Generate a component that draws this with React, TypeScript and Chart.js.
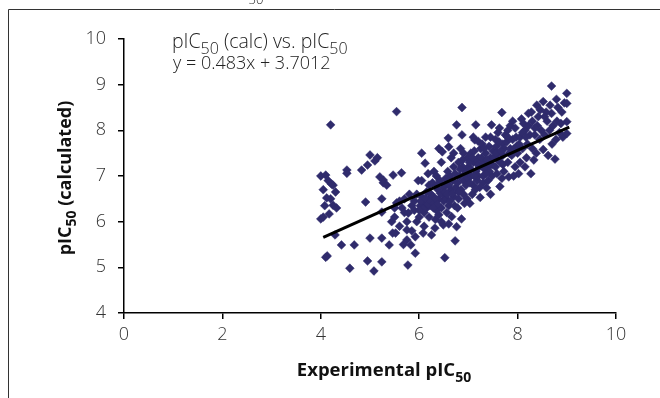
import { useEffect, useRef } from "react";
import { Chart, registerables } from "chart.js";
Chart.register(...registerables);

// Experimental pIC50 (x) vs calculated pIC50 (y)
const scatterPoints: [number, number][] = [
  [4.0, 7.0], [4.1, 7.02], [4.05, 6.7], [4.15, 6.9], [4.2, 8.12], [4.0, 6.06], [4.05, 6.1], [4.17, 6.17],
  [4.12, 6.52], [4.22, 6.82], [4.13, 5.25], [4.1, 5.22], [4.2, 6.5], [4.08, 6.35],
  [4.25, 6.36], [4.32, 6.3], [4.29, 5.71], [4.25, 6.8], [4.42, 5.49], [4.3, 6.65],
  [4.53, 7.13], [4.53, 7.06], [4.68, 5.49], [4.59, 4.98],
  [4.83, 7.13], [4.95, 7.24], [4.91, 6.43], [4.95, 5.14], [5.0, 5.64],
  [5.0, 7.46], [5.1, 7.33], [5.2, 6.98], [5.08, 4.92], [5.24, 6.5], [5.24, 6.21], [5.24, 5.64], [5.24, 5.12], [5.15, 7.4],
  [5.27, 6.91], [5.27, 6.85], [5.34, 6.8], [5.47, 7.02], [5.44, 6.0], [5.46, 5.75], [5.39, 5.49], [5.54, 8.41],
  [5.5, 6.1], [5.54, 6.41], [5.5, 6.3], [5.52, 5.75],
  [5.64, 7.07], [5.6, 6.45], [5.65, 6.3], [5.7, 6.5], [5.75, 5.82], [5.75, 5.6], [5.75, 6.0], [5.7, 6.2], [5.68, 5.5], [5.6, 5.9],
  [5.77, 5.05], [5.78, 6.19], [5.83, 5.49], [5.92, 5.67], [5.92, 5.31], [5.85, 6.35], [5.9, 6.45], [5.95, 6.6],
  [5.8, 6.6], [5.9, 6.25], [5.98, 6.9], [5.85, 5.8], [6.0, 6.1], [5.95, 6.0],
  [6.05, 7.5], [6.12, 7.28], [6.05, 6.9], [6.08, 5.75], [6.1, 6.4], [6.15, 6.3], [6.2, 6.5], [6.05, 6.55], [6.1, 6.2],
  [6.2, 6.1], [6.15, 6.65], [6.25, 5.71], [6.22, 6.35], [6.2, 6.8], [6.18, 7.05], [6.1, 5.9], [6.02, 6.35], [6.24, 6.6],
  [6.03, 6.45], [6.13, 6.5], [6.18, 6.38], [6.08, 6.28], [6.23, 6.45], [6.0, 6.25],
  [6.32, 5.86], [6.49, 5.93], [6.3, 6.4], [6.35, 6.25], [6.4, 6.5], [6.45, 6.3], [6.28, 6.55], [6.38, 6.7], [6.42, 6.9],
  [6.3, 7.1], [6.45, 7.3], [6.4, 7.6], [6.47, 7.53], [6.33, 6.05], [6.48, 6.6], [6.4, 6.15], [6.35, 7.0], [6.5, 6.45],
  [6.27, 6.85], [6.45, 6.0], [6.33, 6.5], [6.37, 6.38], [6.43, 6.62], [6.29, 6.3], [6.5, 6.75], [6.36, 6.8],
  [6.52, 5.21], [6.59, 7.83], [6.6, 7.64], [6.66, 6.11], [6.73, 5.58], [6.55, 6.5], [6.6, 6.35], [6.65, 6.7], [6.7, 6.55],
  [6.55, 6.85], [6.62, 7.0], [6.7, 7.2], [6.58, 7.1], [6.68, 6.9], [6.72, 6.35], [6.52, 6.65], [6.65, 7.4], [6.7, 7.5],
  [6.56, 6.2], [6.74, 6.75], [6.6, 5.95], [6.57, 6.6], [6.63, 6.45], [6.68, 6.62], [6.6, 6.8], [6.73, 7.05], [6.54, 6.95],
  [6.76, 8.12], [6.76, 5.89], [6.86, 6.06], [6.87, 8.5], [6.87, 7.9], [6.8, 6.5], [6.85, 6.7], [6.9, 6.9], [6.95, 7.1],
  [6.8, 7.3], [6.9, 7.5], [6.98, 7.4], [6.82, 7.0], [6.9, 6.6], [6.95, 6.8], [6.78, 6.3], [7.0, 7.2], [6.88, 7.2],
  [6.97, 6.5], [6.84, 7.6], [6.92, 6.4], [6.78, 6.85], [6.83, 7.15], [6.93, 7.05], [6.8, 6.65], [6.99, 6.95], [6.88, 7.35],
  [7.13, 7.79], [7.2, 7.76], [7.24, 6.53], [7.05, 7.0], [7.1, 7.3], [7.15, 7.1], [7.2, 7.4], [7.05, 7.5], [7.1, 6.8],
  [7.22, 7.2], [7.18, 6.9], [7.08, 6.6], [7.25, 7.6], [7.12, 7.55], [7.03, 6.4], [7.2, 7.0], [7.15, 8.12], [7.1, 7.85],
  [7.23, 6.75], [7.05, 7.15], [7.17, 7.35], [7.02, 7.3], [7.12, 7.0], [7.08, 7.4], [7.2, 7.25], [7.14, 6.7], [7.03, 6.85],
  [7.37, 6.74], [7.47, 8.12], [7.3, 7.3], [7.35, 7.5], [7.4, 7.2], [7.45, 7.4], [7.3, 7.0], [7.42, 7.65], [7.28, 7.7],
  [7.48, 7.0], [7.35, 7.85], [7.45, 7.85], [7.3, 6.85], [7.4, 6.9], [7.5, 7.55], [7.33, 7.15], [7.27, 7.4], [7.45, 6.6],
  [7.38, 7.35], [7.32, 7.6], [7.43, 7.1], [7.48, 7.25], [7.36, 7.05],
  [7.64, 6.77], [7.68, 8.39], [7.55, 7.2], [7.6, 7.5], [7.65, 7.3], [7.7, 7.7], [7.55, 7.8], [7.6, 7.95], [7.72, 7.1],
  [7.58, 7.05], [7.7, 7.45], [7.63, 8.05], [7.75, 7.9], [7.52, 7.4], [7.68, 6.95], [7.57, 7.65], [7.73, 7.6], [7.62, 7.75],
  [7.56, 7.5], [7.66, 7.55], [7.7, 7.25], [7.6, 7.35],
  [7.8, 7.3], [7.85, 7.6], [7.9, 7.8], [7.8, 8.0], [7.95, 7.2], [7.88, 7.45], [7.82, 6.98], [7.98, 7.65], [7.85, 8.1],
  [7.92, 7.0], [7.78, 7.75], [7.95, 8.05], [8.0, 7.5], [7.9, 8.2], [7.83, 7.5], [7.93, 7.6], [7.8, 7.85], [7.97, 7.85],
  [8.22, 8.37], [8.05, 7.85], [8.1, 7.6], [8.15, 8.0], [8.2, 7.7], [8.05, 7.3], [8.12, 8.15], [8.18, 7.4], [8.08, 8.25],
  [8.25, 7.9], [8.02, 7.05], [8.15, 7.2], [8.22, 8.1], [8.1, 7.95], [8.03, 7.7], [8.17, 7.85],
  [8.39, 8.55], [8.46, 8.45], [8.3, 8.2], [8.35, 7.9], [8.4, 8.1], [8.3, 7.6], [8.45, 7.8], [8.28, 8.4], [8.38, 7.5],
  [8.48, 8.0], [8.33, 7.35], [8.42, 8.3], [8.27, 7.05], [8.35, 8.05],
  [8.52, 8.63], [8.66, 8.55], [8.69, 8.97], [8.69, 8.37], [8.52, 7.58], [8.6, 8.2], [8.55, 7.9], [8.65, 8.0], [8.58, 8.4],
  [8.7, 7.7], [8.62, 7.45], [8.72, 8.1], [8.55, 8.3],
  [8.79, 8.68], [8.76, 7.37], [8.8, 8.2], [8.85, 7.95], [8.9, 8.4], [8.78, 7.8], [8.88, 8.15], [8.95, 8.6], [8.82, 8.5],
  [8.92, 7.85],
  [9.0, 8.81], [9.0, 8.59], [9.0, 8.19], [9.0, 7.93],
];

// Linear trendline endpoints (y = 0.483x + 3.7012)
const trendX = [4.05, 9.05];
const trendY = [5.657, 8.072];

const xTickValues = [0, 2, 4, 6, 8, 10];
const yTickValues = [4, 5, 6, 7, 8, 9, 10];

const annotationLine1 = [{ t: "pIC" }, { t: "50", sub: true }, { t: " (calc) vs. pIC" }, { t: "50", sub: true }];
const annotationLine2 = [{ t: "y = 0.483x + 3.7012" }];
const yTitle = [{ t: "pIC" }, { t: "50", sub: true }, { t: " (calculated)" }];
const xTitle = [{ t: "Experimental pIC" }, { t: "50", sub: true }];

type Seg = { t: string; sub?: boolean };

function drawRich(
  ctx: CanvasRenderingContext2D,
  segs: Seg[],
  x: number,
  y: number,
  size: number,
  weight: string,
  family: string,
  align: "left" | "center",
  subScale = 0.72
) {
  const subSize = Math.round(size * subScale);
  const fontFor = (s: Seg) => `${weight} ${s.sub ? subSize : size}px ${family}`;
  let total = 0;
  const widths = segs.map((s) => {
    ctx.font = fontFor(s);
    const w = ctx.measureText(s.t).width;
    total += w;
    return w;
  });
  let cx = align === "center" ? x - total / 2 : x;
  ctx.textBaseline = "alphabetic";
  ctx.textAlign = "left";
  segs.forEach((s, i) => {
    ctx.font = fontFor(s);
    ctx.fillText(s.t, cx, s.sub ? y + size * 0.3 : y);
    cx += widths[i];
  });
}

const textPlugin = {
  id: "richTexts",
  afterDraw(chart: any) {
    const ctx: CanvasRenderingContext2D = chart.ctx;
    ctx.save();
    // frame
    ctx.strokeStyle = "#333";
    ctx.lineWidth = 1;
    ctx.beginPath();
    ctx.moveTo(8.5, 398);
    ctx.lineTo(8.5, 9.5);
    ctx.lineTo(660, 9.5);
    ctx.stroke();

    ctx.fillStyle = "#222";
    // cut-off title fragment at the top
    ctx.font = "300 13px 'Open Sans'";
    ctx.textAlign = "center";
    ctx.textBaseline = "alphabetic";
    ctx.fillText("50", 256, 4);

    drawRich(ctx, annotationLine1, 172, 48, 19.5, "300", "'Open Sans'", "left", 0.84);
    drawRich(ctx, annotationLine2, 173, 69, 18, "300", "'Open Sans'", "left");

    ctx.fillStyle = "#111";
    drawRich(ctx, xTitle, 384, 376, 18.5, "bold", "'Open Sans'", "center", 0.75);

    ctx.save();
    ctx.translate(71, 178);
    ctx.rotate(-Math.PI / 2);
    drawRich(ctx, yTitle, 0, 0, 18, "bold", "'Open Sans'", "center", 0.75);
    ctx.restore();

    ctx.restore();
  },
};

export default function App() {
  const ref = useRef<HTMLCanvasElement | null>(null);
  useEffect(() => {
    if (!ref.current) return;
    const tickFont = { family: "'Open Sans'", size: 18, weight: "300" as any };
    const chart = new Chart(ref.current, {
      type: "scatter",
      data: {
        datasets: [
          {
            type: "line",
            data: trendX.map((x, i) => ({ x, y: trendY[i] })),
            borderColor: "#000",
            borderWidth: 3,
            pointRadius: 0,
            fill: false,
            order: 0,
          } as any,
          {
            data: scatterPoints.map(([x, y]) => ({ x, y })),
            pointStyle: "rectRot",
            pointRadius: 4.4,
            backgroundColor: "#2f2b6c",
            borderColor: "#2f2b6c",
            borderWidth: 0.5,
            order: 1,
          },
        ],
      },
      options: {
        responsive: false,
        animation: false,
        devicePixelRatio: 1,
        layout: { padding: { top: 39, right: 44, left: 0, bottom: 0 } },
        plugins: { legend: { display: false }, tooltip: { enabled: false } },
        scales: {
          x: {
            type: "linear",
            min: 0,
            max: 10,
            afterFit: (a: any) => {
              a.height = 85;
            },
            afterBuildTicks: (a: any) => {
              a.ticks = xTickValues.map((v) => ({ value: v }));
            },
            ticks: { color: "#333", font: tickFont, padding: 5 },
            grid: { drawOnChartArea: false, drawTicks: true, tickLength: 6, color: "#000", lineWidth: 1.5 },
            border: { display: true, color: "#000", width: 1.5 },
          },
          y: {
            type: "linear",
            min: 4,
            max: 10,
            afterFit: (a: any) => {
              a.width = 124;
            },
            afterBuildTicks: (a: any) => {
              a.ticks = yTickValues.map((v) => ({ value: v }));
            },
            ticks: { color: "#333", font: tickFont, padding: 12 },
            grid: { drawOnChartArea: false, drawTicks: true, tickLength: 6, color: "#000", lineWidth: 1.5 },
            border: { display: true, color: "#000", width: 1.5 },
          },
        },
      },
      plugins: [textPlugin],
    });
    return () => chart.destroy();
  }, []);
  return (
    <div style={{ position: "absolute", left: 0, top: 0, width: 660, height: 398, background: "#fff" }}>
      <canvas ref={ref} width={660} height={398} style={{ display: "block" }} />
    </div>
  );
}
